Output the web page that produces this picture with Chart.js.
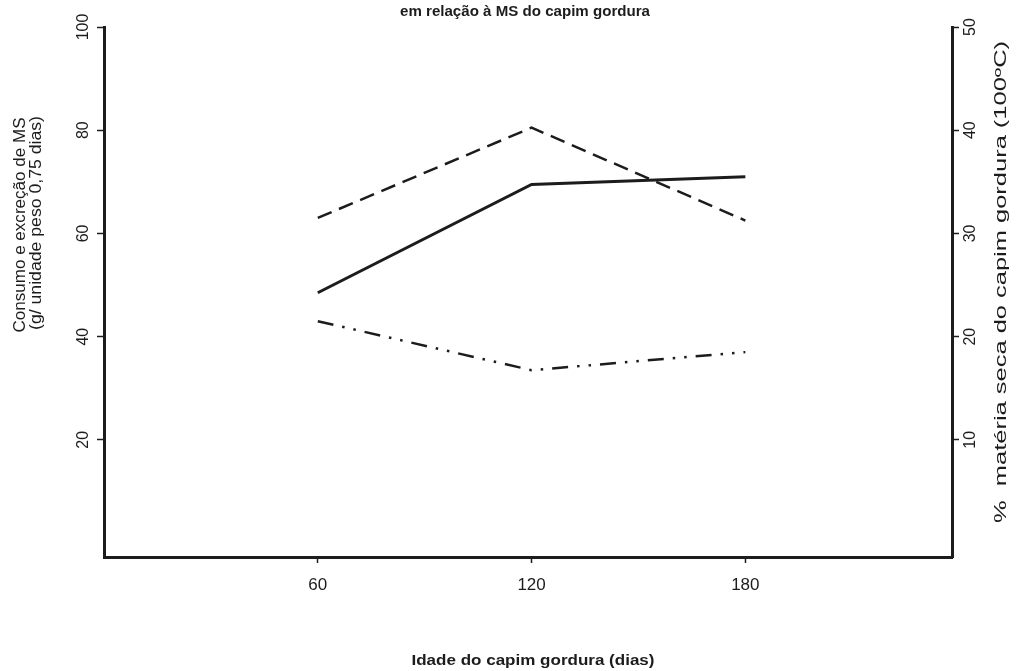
<!DOCTYPE html>
<html><head><meta charset="utf-8">
<script src="https://cdn.jsdelivr.net/npm/chart.js@4"></script>
<style>html,body{margin:0;padding:0;background:#fff}canvas{display:block}</style>
</head><body>
<canvas id="c" width="1027" height="671"></canvas>
<script>
const idade = [60, 120, 180];
const serieSolida = [48.5, 69.5, 71];
const serieTracejada = [63, 80.5, 62.5];
const serieTracoPonto = [43, 33.5, 37];
const ticksEsq = [20, 40, 60, 80, 100];
const ticksDir = [10, 20, 30, 40, 50];
const ticksX = [60, 120, 180];
const tituloTopo = 'em relação à MS do capim gordura';
const tituloEsq1 = 'Consumo e excreção de MS';
const tituloEsq2 = '(g/ unidade peso 0,75 dias)';
const tituloDir = '%  matéria seca do capim gordura (100ºC)';
const tituloX = 'Idade do capim gordura (dias)';

const pts = arr => idade.map((x, i) => ({x: x, y: arr[i]}));
const INK = '#1c1c1c';

function drawText(ctx, text, x, y, font, target, rot) {
  ctx.save();
  ctx.font = font;
  ctx.translate(x, y);
  if (rot) ctx.rotate(-Math.PI / 2);
  if (target) {
    const w = ctx.measureText(text).width;
    ctx.scale(target / w, 1);
  }
  ctx.textAlign = 'center';
  ctx.textBaseline = 'middle';
  ctx.fillStyle = INK;
  ctx.fillText(text, 0, 0);
  ctx.restore();
}

const textos = {
  id: 'textos',
  afterDraw(chart) {
    const ctx = chart.ctx;
    const sy = chart.scales.y, sy2 = chart.scales.y2, sx = chart.scales.x;
    const tf = '16px "Liberation Sans", Arial, sans-serif';
    ticksEsq.forEach(v => drawText(ctx, String(v), 84, sy.getPixelForValue(v), tf, 0, true));
    ticksDir.forEach(v => drawText(ctx, String(v), 971, sy2.getPixelForValue(v), tf, 0, true));
    ticksX.forEach(v => drawText(ctx, String(v), sx.getPixelForValue(v), 585, '17px "Liberation Sans", Arial, sans-serif', 0, false));
    drawText(ctx, tituloX, 533, 661, 'bold 15px "Liberation Sans", Arial, sans-serif', 243, false);
    drawText(ctx, tituloTopo, 525, 12, 'bold 14px "Liberation Sans", Arial, sans-serif', 250, false);
    const lf = '16px "Liberation Sans", Arial, sans-serif';
    drawText(ctx, tituloEsq1, 21, 225, lf, 215, true);
    drawText(ctx, tituloEsq2, 37, 223, lf, 214, true);
    drawText(ctx, tituloDir, 1002, 282, lf, 482, true);
  }
};

const gridCfg = {drawOnChartArea: false, drawTicks: true, tickLength: 7, tickWidth: 1.5, tickColor: INK};
const borderCfg = {display: true, width: 3, color: INK};

new Chart(document.getElementById('c'), {
  type: 'line',
  data: {
    datasets: [
      {data: pts(serieSolida), borderColor: INK, borderWidth: 3, pointRadius: 0, tension: 0},
      {data: pts(serieTracejada), borderColor: INK, borderWidth: 2.5, borderDash: [15, 8], pointRadius: 0, tension: 0},
      {data: pts(serieTracoPonto), borderColor: INK, borderWidth: 2.5, borderDash: [16, 9, 2.5, 9, 2.5, 9], pointRadius: 0, tension: 0}
    ]
  },
  options: {
    responsive: false,
    animation: false,
    devicePixelRatio: 1,
    layout: {padding: {top: 27, left: 0, right: 0, bottom: 0}},
    plugins: {legend: {display: false}, tooltip: {enabled: false}, title: {display: false}},
    scales: {
      x: {
        type: 'linear', position: 'bottom', min: 0, max: 238,
        afterBuildTicks: s => { s.ticks = ticksX.map(v => ({value: v})); },
        afterFit: s => { s.height = 114; },
        grid: Object.assign({}, gridCfg, {tickLength: 6}), border: borderCfg,
        ticks: {display: false}
      },
      y: {
        type: 'linear', position: 'left', min: -2.7, max: 100,
        afterBuildTicks: s => { s.ticks = ticksEsq.map(v => ({value: v})); },
        afterFit: s => { s.width = 104; },
        grid: gridCfg, border: borderCfg, ticks: {display: false}
      },
      y2: {
        type: 'linear', position: 'right', min: -1.35, max: 50,
        afterBuildTicks: s => { s.ticks = ticksDir.map(v => ({value: v})); },
        afterFit: s => { s.width = 75; },
        grid: gridCfg, border: borderCfg, ticks: {display: false}
      }
    }
  },
  plugins: [textos]
});
</script>
</body></html>
